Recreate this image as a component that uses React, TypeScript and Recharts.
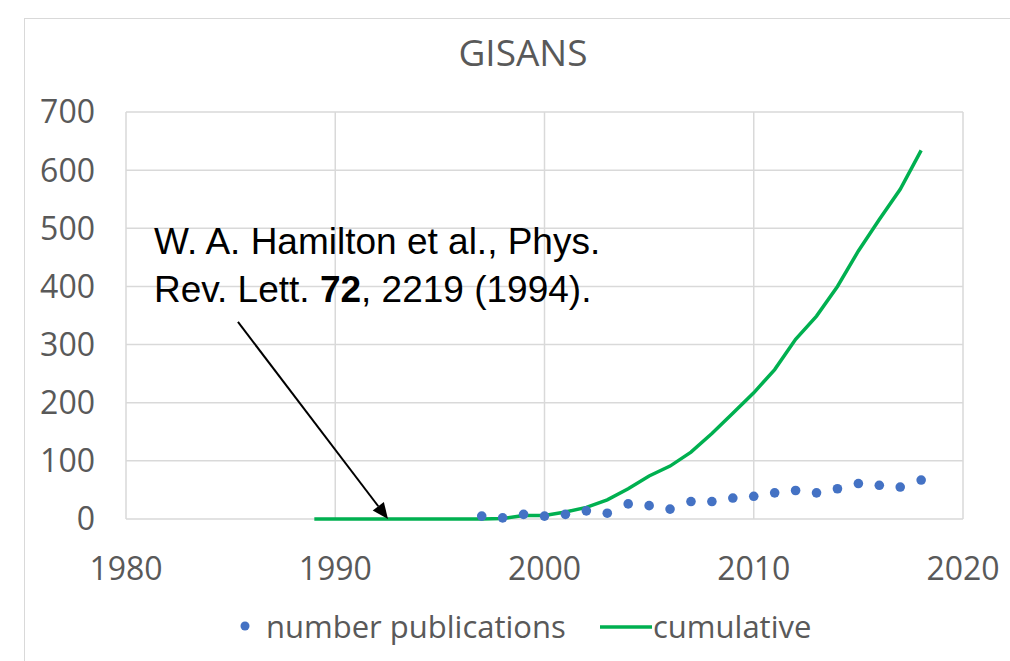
import React from 'react';
import {
  ComposedChart, Scatter, Line, XAxis, YAxis, CartesianGrid, Legend, ReferenceLine,
} from 'recharts';

// yearly publications (dots)
const pubYears = [1997, 1998, 1999, 2000, 2001, 2002, 2003, 2004, 2005, 2006, 2007,
  2008, 2009, 2010, 2011, 2012, 2013, 2014, 2015, 2016, 2017, 2018];
const pubCounts = [5, 2, 8, 5, 8, 14, 10, 26, 23, 17, 30, 30, 36, 39, 45, 49, 45, 52, 61, 58, 55, 67];

// cumulative curve
const cumYears = [1989, 1990, 1991, 1992, 1993, 1994, 1995, 1996, 1997, 1998, 1999, 2000,
  2001, 2002, 2003, 2004, 2005, 2006, 2007, 2008, 2009, 2010, 2011, 2012, 2013, 2014,
  2015, 2016, 2017, 2018];
const cumValues = [0, 0, 0, 0, 0, 0, 0, 0, 0, 1, 6, 6, 12, 20, 33, 52, 74, 91, 115, 147,
  182, 217, 257, 309, 349, 400, 461, 515, 567, 634];

const xTicks = [1980, 1990, 2000, 2010, 2020];
const yTicks = [0, 100, 200, 300, 400, 500, 600, 700];

// annotation arrow (data coords)
const arrowFrom = { x: 1985.35, y: 339 };
const arrowTo = { x: 1992.52, y: 0 };

const pubData = pubYears.map((year, i) => ({ year, pubs: pubCounts[i] }));
const cumData = cumYears.map((year, i) => ({ year, cum: cumValues[i] }));

const BLUE = '#4472C4';
const GREEN = '#00B050';
const TEXT = '#595959';
const FONT = '"Open Sans", sans-serif';

const Arrow = (props: any) => {
  const { x1, y1, x2, y2 } = props;
  const ang = Math.atan2(y2 - y1, x2 - x1);
  const len = 16;
  const w = 7;
  const bx = x2 - len * Math.cos(ang);
  const by = y2 - len * Math.sin(ang);
  const px = -Math.sin(ang) * w;
  const py = Math.cos(ang) * w;
  return (
    <g>
      <line x1={x1} y1={y1} x2={bx} y2={by} stroke="#000" strokeWidth={2} />
      <polygon points={`${x2},${y2} ${bx + px},${by + py} ${bx - px},${by - py}`} fill="#000" />
    </g>
  );
};

const LegendContent = () => (
  <div style={{ position: 'relative', height: 44, fontFamily: FONT, fontSize: 31, color: TEXT }}>
    <svg width={14} height={14} style={{ position: 'absolute', left: 238, top: 15 }}>
      <circle cx={7} cy={7} r={4.5} fill={BLUE} />
    </svg>
    <span style={{ position: 'absolute', left: 266, top: 0, lineHeight: '44px' }}>number publications</span>
    <svg width={52} height={10} style={{ position: 'absolute', left: 600, top: 18 }}>
      <line x1={0} y1={5} x2={52} y2={5} stroke={GREEN} strokeWidth={3.5} />
    </svg>
    <span style={{ position: 'absolute', left: 653, top: 0, lineHeight: '44px' }}>cumulative</span>
  </div>
);

export default function App() {
  return (
    <div style={{ position: 'absolute', left: 0, top: 0, width: 1010, height: 661, overflow: 'hidden', background: '#fff' }}>
      <div style={{ position: 'absolute', left: 24, top: 18, width: 1100, height: 700, border: '1.5px solid #d9d9d9' }} />
      <div style={{ position: 'absolute', left: 24, width: 998, top: 26, textAlign: 'center', fontFamily: FONT, fontSize: 37, color: TEXT }}>
        GISANS
      </div>
      <ComposedChart
        width={1010}
        height={661}
        margin={{ top: 112, right: 47, left: 26, bottom: 38 }}
        style={{ position: 'absolute', left: 0, top: 0 }}
      >
        <CartesianGrid stroke="#d9d9d9" strokeWidth={1.5} />
        <XAxis
          type="number"
          dataKey="year"
          domain={[1980, 2020]}
          ticks={xTicks}
          allowDataOverflow
          height={60}
          tickSize={0}
          tickMargin={38}
          tickLine={false}
          axisLine={false}
          tick={{ fill: TEXT, fontSize: 32, fontFamily: FONT }}
        />
        <YAxis
          type="number"
          domain={[0, 700]}
          ticks={yTicks}
          width={100}
          tickSize={0}
          tickMargin={31}
          tickLine={false}
          axisLine={false}
          tick={{ fill: TEXT, fontSize: 32, fontFamily: FONT }}
        />
        <Line
          data={cumData}
          dataKey="cum"
          type="linear"
          stroke={GREEN}
          strokeWidth={3.5}
          dot={false}
          isAnimationActive={false}
          name="cumulative"
        />
        <Scatter
          data={pubData}
          dataKey="pubs"
          fill={BLUE}
          shape={(p: any) => <circle cx={p.cx} cy={p.cy} r={4.8} fill={BLUE} />}
          isAnimationActive={false}
          name="number publications"
        />
        <ReferenceLine
          segment={[arrowFrom, arrowTo]}
          ifOverflow="visible"
          shape={Arrow}
        />
        <Legend
          height={44}
          content={<LegendContent />}
          wrapperStyle={{ top: 604, bottom: 'auto', left: 0, width: 1010 }}
        />
      </ComposedChart>
      <div
        style={{
          position: 'absolute', left: 154, top: 218, fontFamily: '"Liberation Sans", Arial, sans-serif',
          fontSize: 37, lineHeight: '48px', color: '#000', whiteSpace: 'nowrap',
        }}
      >
        W. A. Hamilton et al., Phys.<br />
        Rev. Lett. <b>72</b>, 2219 (1994).
      </div>
    </div>
  );
}
